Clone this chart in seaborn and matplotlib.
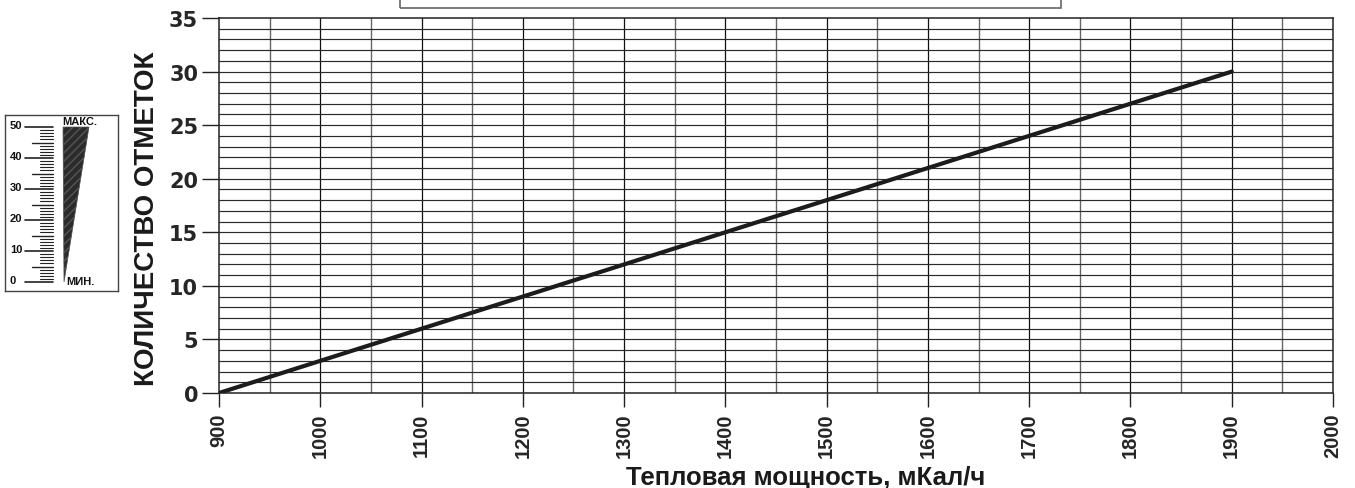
import numpy as np
import pandas as pd
import matplotlib
matplotlib.use("Agg")
import matplotlib.pyplot as plt
from matplotlib.patches import Rectangle, Polygon
import seaborn as sns

sns.set_theme(style="white")
plt.rcParams['font.family'] = ['Liberation Sans', 'DejaVu Sans']

# Heat output (Mcal/h) vs number of marks on the scale
power = [900, 1900]
marks = [0, 30]

x_ticks = [900, 1000, 1100, 1200, 1300, 1400, 1500, 1600, 1700, 1800, 1900, 2000]
y_ticks = [0, 5, 10, 15, 20, 25, 30, 35]
gauge_labels = ["0", "10", "20", "30", "40", "50"]

df = pd.DataFrame({"power": power, "marks": marks})

W, H = 1355, 489
fig = plt.figure(figsize=(W / 100, H / 100), dpi=100)
ax = fig.add_axes([219 / W, 1 - 394 / H, (1333 - 219) / W, (394 - 19) / H])

# grid: vertical lines every 50, horizontal lines every 1
for xv in np.arange(950, 2000, 100):
    ax.axvline(xv, color="#666666", lw=1.0, zorder=1)
for xv in np.arange(1000, 2000, 100):
    ax.axvline(xv, color="#111111", lw=0.9, zorder=1)
for yv in range(1, 35):
    ax.axhline(yv, color="#2a2a2a", lw=0.85, zorder=1)

sns.lineplot(data=df, x="power", y="marks", ax=ax, color="#1c1c1c", lw=3.0, zorder=3)

ax.set_xlim(900, 2000)
ax.set_ylim(0, 35)
ax.set_xticks(x_ticks)
ax.set_yticks(y_ticks)
ax.set_xticklabels([str(v) for v in x_ticks], rotation=90, fontsize=14.5, fontweight="bold")
ax.set_yticklabels([str(v) for v in y_ticks], fontsize=15, fontweight="bold",
                   family=["DejaVu Sans"])
ax.tick_params(axis="x", direction="out", length=10, width=1.0, color="#222222", pad=4,
               bottom=True)
ax.tick_params(axis="y", direction="out", length=12, width=1.0, color="#222222", pad=3,
               left=True)
for s in ax.spines.values():
    s.set_color("#222222")
    s.set_linewidth(1.1)
    s.set_visible(True)

ax.set_xlabel("")
ax.set_ylabel("")
fig.text(806 / W, 1 - 485 / H, "Тепловая мощность, мКал/ч", fontsize=18.5,
         fontweight="bold", ha="center", va="baseline", color="#1a1a1a")
fig.text(147 / W, 1 - 219 / H, "КОЛИЧЕСТВО ОТМЕТОК", fontsize=20, fontweight="bold",
         ha="center", va="center", rotation=90, color="#1a1a1a")

# empty caption frame above the plot
fig.patches.append(Rectangle((400 / W, 1 - 9 / H), (1061 - 400) / W, 0.05,
                             transform=fig.transFigure, fill=False,
                             edgecolor="#666666", lw=1.2))

# scale indicator icon
gx = fig.add_axes([5 / W, 1 - 292 / H, (118 - 5) / W, (292 - 116) / H])
gx.set_xlim(0, 113)
gx.set_ylim(-9, 167)
gx.set_xticks([])
gx.set_yticks([])
for s in gx.spines.values():
    s.set_color("#444444")
    s.set_linewidth(1.0)

y0, y1 = 0, 155   # span for 0..50
for v in range(0, 51):
    yy = y0 + (y1 - y0) * v / 50
    if v % 10 == 0:
        x_start, lw = 20, 1.2
    elif v % 5 == 0:
        x_start, lw = 27, 1.0
    else:
        x_start, lw = 35, 0.8
    gx.plot([x_start, 48], [yy, yy], color="#222222", lw=lw)
for i, lab in enumerate(gauge_labels):
    yy = y0 + (y1 - y0) * i * 10 / 50
    gx.text(5, yy + 2, lab, fontsize=8, fontweight="bold", va="center", ha="left", color="#111111")

gx.add_patch(Polygon([[58, y1], [84, y1], [59, y0]], closed=True,
                     facecolor="#2b2b2b", edgecolor="#555555", hatch="////", lw=0.5))
gx.text(57, y1 + 6, "МАКС.", fontsize=8, fontweight="bold", va="center", ha="left", color="#111111")
gx.text(61, y0 + 1, "МИН.", fontsize=8, fontweight="bold", va="center", ha="left", color="#111111")

fig.savefig("out.png", dpi=100)
